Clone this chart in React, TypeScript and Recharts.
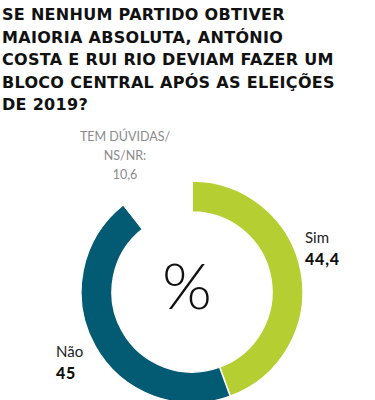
import { PieChart, Pie, Cell } from 'recharts'

const CATEGORIES = ['Sim', 'Não', 'Tem dúvidas/NS/NR']
const VALUES = [44.4, 45, 10.6]
const VALUE_LABELS = ['44,4', '45', '10,6']

const COLORS = ['#b5cf32', '#035a73', '#ffffff']

const TITLE_LINES = [
  'SE NENHUM PARTIDO OBTIVER',
  'MAIORIA ABSOLUTA, ANTÓNIO',
  'COSTA E RUI RIO DEVIAM FAZER UM',
  'BLOCO CENTRAL APÓS AS ELEIÇÕES',
  'DE 2019?',
]

const data = CATEGORIES.map((name, i) => ({ name, value: VALUES[i] }))

const labelFont = 'Lato, "Open Sans", sans-serif'

export default function App() {
  return (
    <div
      style={{
        position: 'absolute',
        left: 0,
        top: 0,
        width: 375,
        height: 400,
        background: '#fff',
        overflow: 'hidden',
      }}
    >
      <div
        style={{
          position: 'absolute',
          left: 2,
          top: 4,
          fontFamily: '"DejaVu Sans", sans-serif',
          fontWeight: 700,
          fontSize: 16,
          lineHeight: '22.5px',
          letterSpacing: 0.3,
          color: '#111',
          whiteSpace: 'nowrap',
        }}
      >
        {TITLE_LINES.map((l) => (
          <div key={l}>{l}</div>
        ))}
      </div>

      <div style={{ position: 'absolute', left: 0, top: 0 }}>
        <PieChart width={375} height={400}>
          <Pie
            data={data}
            dataKey="value"
            cx={187}
            cy={287}
            innerRadius={80}
            outerRadius={111}
            startAngle={90}
            endAngle={-270}
            stroke="#ffffff"
            strokeWidth={1.5}
            isAnimationActive={false}
          >
            {data.map((d, i) => (
              <Cell key={d.name} fill={COLORS[i]} />
            ))}
          </Pie>
        </PieChart>
      </div>

      <div
        style={{
          position: 'absolute',
          left: 147,
          top: 245,
          width: 80,
          textAlign: 'center',
          fontFamily: labelFont,
          fontWeight: 300,
          fontSize: 64,
          lineHeight: '80px',
          color: '#111',
        }}
      >
        %
      </div>

      <div
        style={{
          position: 'absolute',
          left: 65,
          top: 127,
          width: 120,
          textAlign: 'center',
          fontFamily: labelFont,
          fontSize: 12.5,
          lineHeight: '19px',
          color: '#8a8a8a',
        }}
      >
        <div>TEM DÚVIDAS/</div>
        <div>NS/NR:</div>
        <div>{VALUE_LABELS[2]}</div>
      </div>

      <div style={{ position: 'absolute', left: 305, top: 226, fontFamily: labelFont, color: '#222' }}>
        <div style={{ fontSize: 15, lineHeight: '22px' }}>{CATEGORIES[0]}</div>
        <div style={{ fontSize: 16, lineHeight: '22px', fontWeight: 900, letterSpacing: 0.8, color: '#111' }}>
          {VALUE_LABELS[0]}
        </div>
      </div>

      <div style={{ position: 'absolute', left: 56, top: 340, fontFamily: labelFont, color: '#222' }}>
        <div style={{ fontSize: 15, lineHeight: '22px' }}>{CATEGORIES[1]}</div>
        <div style={{ fontSize: 16, lineHeight: '22px', fontWeight: 900, letterSpacing: 0.8, color: '#111' }}>
          {VALUE_LABELS[1]}
        </div>
      </div>
    </div>
  )
}
